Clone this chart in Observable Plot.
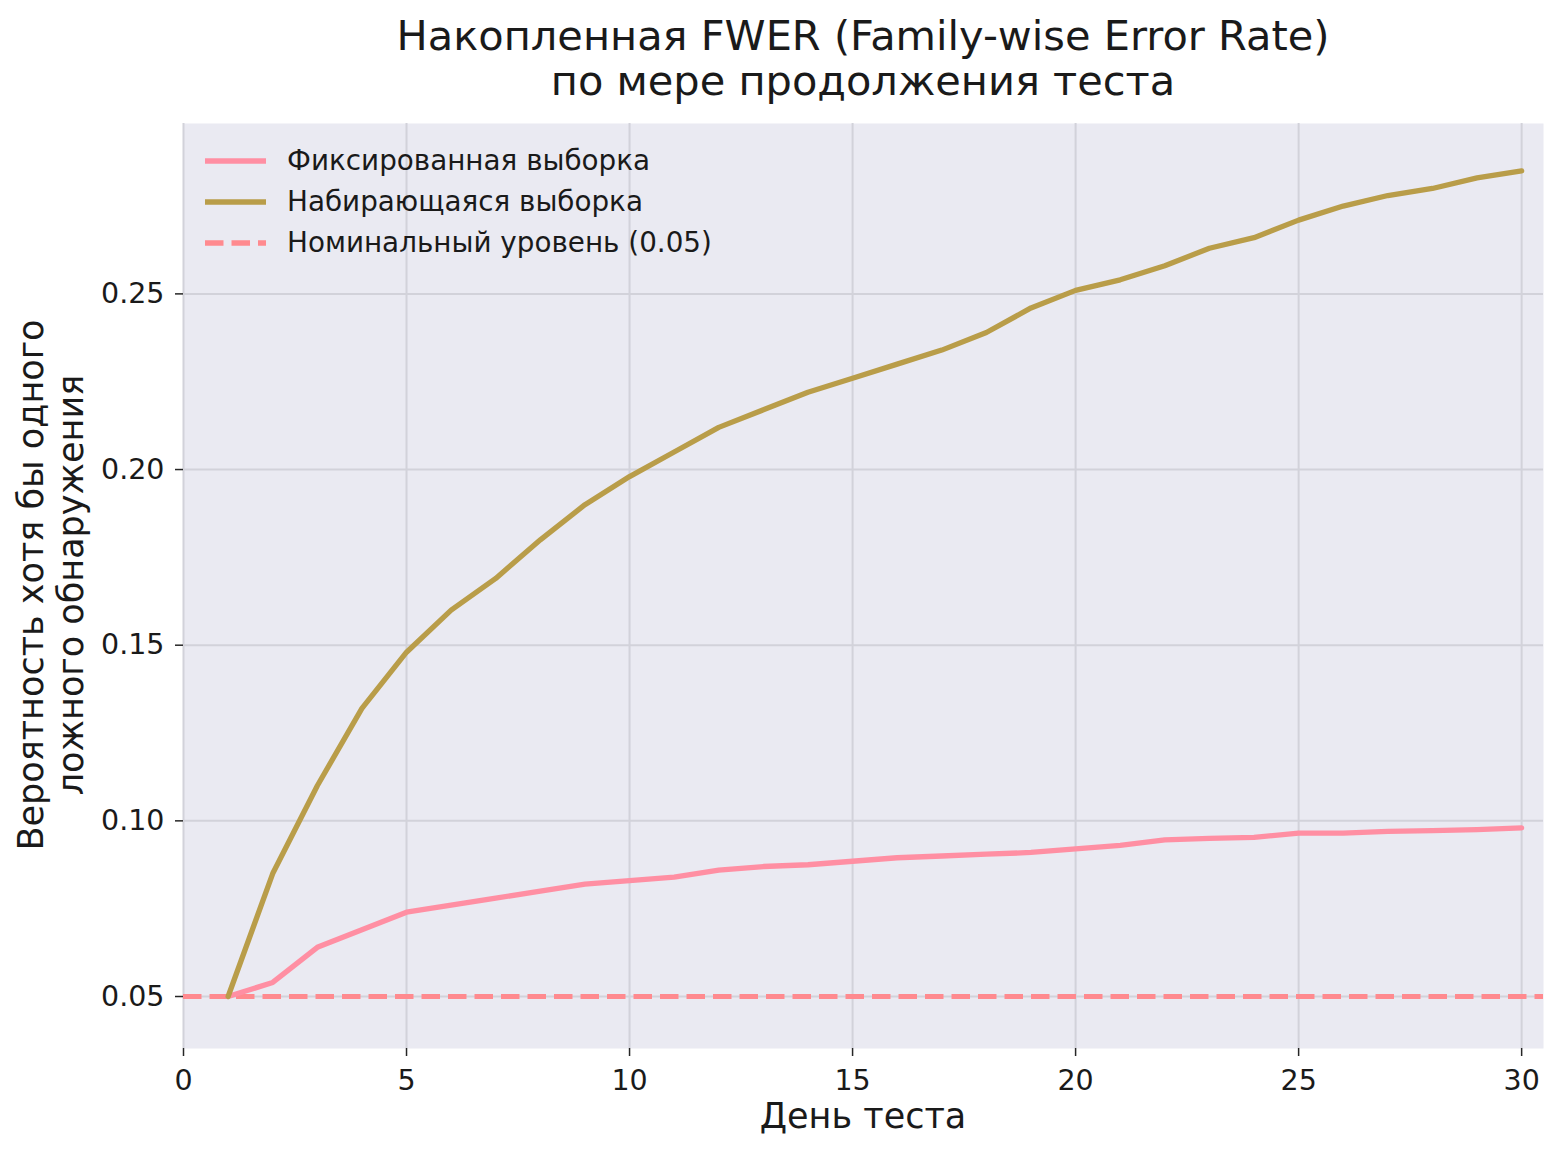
<!DOCTYPE html>
<html>
<head>
<meta charset="utf-8">
<script src="https://cdn.jsdelivr.net/npm/d3@7"></script>
<script src="https://cdn.jsdelivr.net/npm/@observablehq/plot@0.6"></script>
<style>
  html, body { margin: 0; padding: 0; background: #ffffff; }
  #wrap { position: relative; width: 1560px; height: 1154px; background: #ffffff; font-family: "DejaVu Sans", sans-serif; color: #1a1a1a; overflow: hidden; }
  #title { position: absolute; left: 163px; width: 1400px; top: 13px; text-align: center; font-size: 41.5px; line-height: 45px; white-space: nowrap; }
  #chart { position: absolute; left: 0; top: 110px; }
  #xlabel { position: absolute; left: 363px; width: 1000px; top: 1099px; text-align: center; font-size: 35px; line-height: 35px; white-space: nowrap; }
  #ylabel { position: absolute; width: 640px; height: 80px; left: -269px; top: 545px; text-align: center; font-size: 35px; line-height: 40px; transform: rotate(-90deg); transform-origin: 50% 50%; white-space: nowrap; }
  .leg { position: absolute; left: 200px; height: 41px; display: flex; align-items: center; font-size: 27.8px; white-space: nowrap; }
  .leg svg { margin-right: 17px; }
</style>
</head>
<body>
<div id="wrap">
  <div id="title"></div>
  <div id="chart"></div>
  <div id="xlabel"></div>
  <div id="ylabel"></div>
  <div id="legend"></div>
</div>
<script>
// ---- Data ----
const titleLines = ["Накопленная FWER (Family-wise Error Rate)", "по мере продолжения теста"];
const xLabel = "День теста";
const yLabelLines = ["Вероятность хотя бы одного", "ложного обнаружения"];

const days = [1, 2, 3, 4, 5, 6, 7, 8, 9, 10, 11, 12, 13, 14, 15, 16, 17, 18, 19, 20, 21, 22, 23, 24, 25, 26, 27, 28, 29, 30];
const fixedFWER = [0.050, 0.054, 0.064, 0.069, 0.074, 0.076, 0.078, 0.080, 0.082, 0.083, 0.084, 0.086, 0.087, 0.0875, 0.0885,
                   0.0895, 0.090, 0.0905, 0.091, 0.092, 0.093, 0.0946, 0.095, 0.0953, 0.0965, 0.0965, 0.097, 0.0972, 0.0975, 0.098];
const sequentialFWER = [0.050, 0.085, 0.110, 0.132, 0.148, 0.160, 0.169, 0.180, 0.190, 0.198, 0.205, 0.212, 0.217, 0.222, 0.226,
                        0.230, 0.234, 0.239, 0.246, 0.251, 0.254, 0.258, 0.263, 0.266, 0.271, 0.275, 0.278, 0.280, 0.283, 0.285];
const nominalLevel = [0.05];

const seriesNames = ["Фиксированная выборка", "Набирающаяся выборка", "Номинальный уровень (0.05)"];
const seriesColors = ["#ff8fa3", "#b99d49", "#ff8a8f"];

const xTicks = [0, 5, 10, 15, 20, 25, 30];
const yTicks = [0.05, 0.10, 0.15, 0.20, 0.25];

// ---- Texts ----
document.getElementById("title").innerHTML = titleLines.join("<br>");
document.getElementById("xlabel").textContent = xLabel;
document.getElementById("ylabel").innerHTML = yLabelLines.join("<br>");

// ---- Chart ----
const fixedRows = days.map((d, i) => ({day: d, value: fixedFWER[i]}));
const seqRows = days.map((d, i) => ({day: d, value: sequentialFWER[i]}));

const chart = Plot.plot({
  width: 1560,
  height: 1044,
  marginTop: 13,
  marginRight: 17,
  marginBottom: 106,
  marginLeft: 183,
  x: {domain: [0, 30.49]},
  y: {domain: [0.0352, 0.2985]},
  style: {fontFamily: "DejaVu Sans", fontSize: "28.5px", color: "#1a1a1a", background: "transparent", overflow: "visible"},
  marks: [
    Plot.frame({fill: "#eaeaf2", stroke: null}),
    Plot.gridX(xTicks, {stroke: "#d2d2da", strokeOpacity: 1, strokeWidth: 2}),
    Plot.gridY(yTicks, {stroke: "#d2d2da", strokeOpacity: 1, strokeWidth: 2}),
    Plot.ruleY(nominalLevel, {stroke: seriesColors[2], strokeWidth: 5, strokeDasharray: "18.5,8"}),
    Plot.line(fixedRows, {x: "day", y: "value", stroke: seriesColors[0], strokeWidth: 5.3, strokeLinejoin: "round"}),
    Plot.line(seqRows, {x: "day", y: "value", stroke: seriesColors[1], strokeWidth: 5.3, strokeLinejoin: "round"}),
    Plot.axisX(xTicks, {tickSize: 8, tickPadding: 13, fontSize: 28.5, label: null, stroke: "#262626", strokeWidth: 1.5, tickFormat: d => String(d)}),
    Plot.axisY(yTicks, {tickSize: 8, tickPadding: 11, fontSize: 28.5, label: null, stroke: "#262626", strokeWidth: 1.5, tickFormat: d3.format(".2f")})
  ]
});
document.getElementById("chart").appendChild(chart);

// ---- Legend ----
const legend = document.getElementById("legend");
const legendTops = [140, 181, 222];
seriesNames.forEach((name, i) => {
  const row = document.createElement("div");
  row.className = "leg";
  row.style.top = legendTops[i] + "px";
  const dash = i === 2 ? ' stroke-dasharray="18.5,8"' : '';
  row.innerHTML = `<svg width="70" height="10"><line x1="5" x2="66" y1="5" y2="5" stroke="${seriesColors[i]}" stroke-width="5.3"${dash}/></svg><span>${name}</span>`;
  legend.appendChild(row);
});
</script>
</body>
</html>
